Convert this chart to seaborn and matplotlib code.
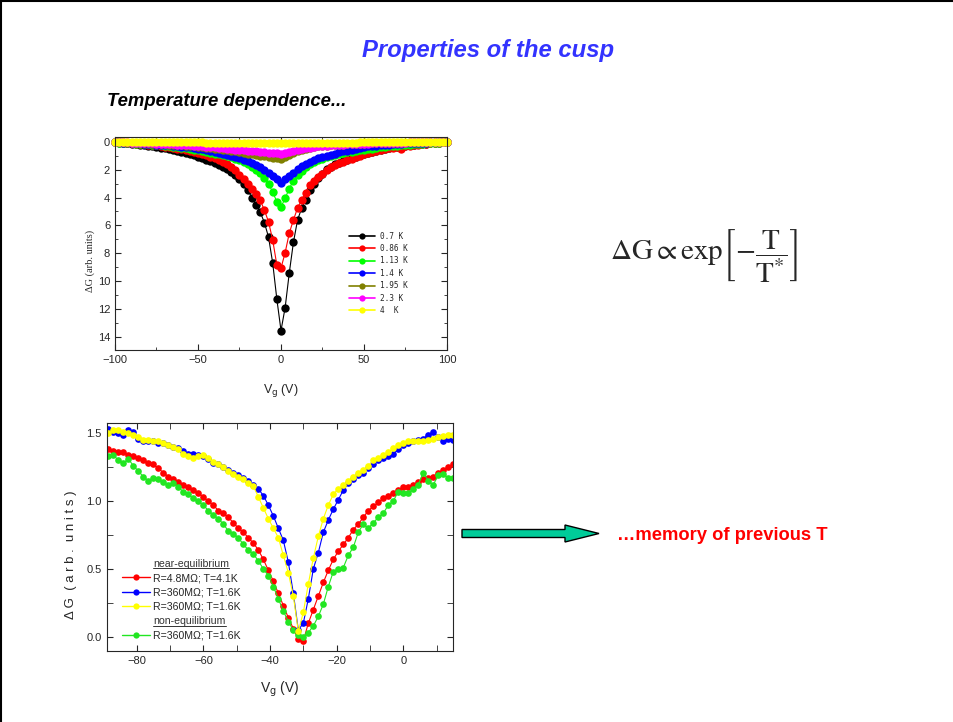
import matplotlib
matplotlib.use("Agg")
import matplotlib.pyplot as plt
from matplotlib.lines import Line2D
from matplotlib.patches import FancyArrow
from matplotlib.ticker import MultipleLocator
import pandas as pd
import seaborn as sns

# ---- top panel: cusp vs temperature ----
top_vg = [-100, -97.5, -95, -92.5, -90, -87.5, -85, -82.5, -80, -77.5,
          -75, -72.5, -70, -67.5, -65, -62.5, -60, -57.5, -55, -52.5,
          -50, -47.5, -45, -42.5, -40, -37.5, -35, -32.5, -30, -27.5,
          -25, -22.5, -20, -17.5, -15, -12.5, -10, -7.5, -5, -2.5,
          0,
          2.5, 5, 7.5, 10, 12.5, 15, 17.5, 20, 22.5, 25,
          27.5, 30, 32.5, 35, 37.5, 40, 42.5, 45, 47.5, 50,
          52.5, 55, 57.5, 60, 62.5, 65, 67.5, 70, 72.5, 75,
          77.5, 80, 82.5, 85, 87.5, 90, 92.5, 95, 97.5, 100]

temps = ["0.7 K", "0.86 K", "1.13 K", "1.4 K", "1.95 K", "2.3 K", "4  K"]
top_colors = ["#000000", "#ff0000", "#00ff00", "#0000ff", "#808000", "#ff00ff", "#ffff00"]

dg_07 = [0.03, 0.05, 0.08, 0.11, 0.14, 0.17, 0.21, 0.24, 0.28, 0.32,
         0.37, 0.42, 0.47, 0.53, 0.6, 0.67, 0.74, 0.81, 0.89, 0.97,
         1.06, 1.15, 1.27, 1.38, 1.52, 1.65, 1.82, 1.97, 2.15, 2.37,
         2.68, 3.0, 3.45, 4.0, 4.5, 5.05, 5.8, 6.85, 8.7, 11.3,
         13.55,
         11.9, 9.4, 7.2, 5.6, 4.75, 4.15, 3.45, 3.0, 2.62, 2.3,
         1.97, 1.77, 1.6, 1.49, 1.4, 1.29, 1.18, 1.08, 0.97, 0.87,
         0.78, 0.7, 0.62, 0.55, 0.5, 0.45, 0.4, 0.36, 0.33, 0.3,
         0.26, 0.22, 0.18, 0.15, 0.12, 0.09, 0.07, 0.05, 0.03, 0.02]
dg_086 = [0.02, 0.04, 0.06, 0.08, 0.1, 0.12, 0.15, 0.17, 0.2, 0.23,
          0.26, 0.3, 0.34, 0.38, 0.43, 0.48, 0.53, 0.59, 0.65, 0.72,
          0.8, 0.88, 0.97, 1.07, 1.18, 1.3, 1.45, 1.62, 1.82, 2.05,
          2.35, 2.65, 3.0, 3.4, 3.75, 4.2, 4.9, 5.75, 7.05, 8.85,
          9.07,
          7.95, 6.55, 5.6, 4.75, 4.15, 3.65, 3.1, 2.8, 2.5, 2.28,
          2.0, 1.8, 1.63, 1.52, 1.45, 1.33, 1.22, 1.12, 1.0, 0.9,
          0.8, 0.72, 0.64, 0.57, 0.52, 0.47, 0.42, 0.38, 0.5, 0.33,
          0.28, 0.24, 0.2, 0.16, 0.13, 0.1, 0.08, 0.06, 0.04, 0.02]
dg_113 = [0.04, 0.05, 0.07, 0.08, 0.1, 0.12, 0.14, 0.16, 0.18, 0.2,
          0.23, 0.26, 0.29, 0.32, 0.35, 0.39, 0.43, 0.47, 0.51, 0.56,
          0.61, 0.66, 0.72, 0.78, 0.84, 0.9, 0.97, 1.04, 1.12, 1.21,
          1.32, 1.45, 1.6, 1.79, 2.02, 2.27, 2.6, 3.02, 3.6, 4.3,
          4.68,
          4.05, 3.35, 2.78, 2.4, 2.06, 1.82, 1.6, 1.44, 1.31, 1.2,
          1.1, 1.02, 0.95, 0.88, 0.82, 0.76, 0.71, 0.66, 0.61, 0.57,
          0.52, 0.48, 0.44, 0.4, 0.37, 0.33, 0.3, 0.27, 0.24, 0.21,
          0.19, 0.16, 0.14, 0.12, 0.1, 0.08, 0.06, 0.05, 0.03, 0.02]
dg_14 = [0.03, 0.04, 0.05, 0.06, 0.08, 0.09, 0.11, 0.13, 0.15, 0.17,
         0.19, 0.21, 0.23, 0.26, 0.28, 0.31, 0.34, 0.37, 0.4, 0.44,
         0.48, 0.52, 0.57, 0.63, 0.7, 0.77, 0.84, 0.92, 1.0, 1.08,
         1.17, 1.27, 1.38, 1.5, 1.65, 1.82, 2.0, 2.2, 2.42, 2.66,
         2.92,
         2.68, 2.45, 2.2, 1.96, 1.76, 1.6, 1.45, 1.3, 1.18, 1.09,
         1.0, 0.92, 0.84, 0.76, 0.68, 0.62, 0.55, 0.48, 0.42, 0.37,
         0.33, 0.3, 0.27, 0.24, 0.21, 0.19, 0.17, 0.15, 0.13, 0.11,
         0.1, 0.08, 0.07, 0.06, 0.05, 0.04, 0.03, 0.03, 0.02, 0.01]
dg_195 = [0.02, 0.03, 0.04, 0.05, 0.06, 0.07, 0.08, 0.09, 0.1, 0.12,
          0.13, 0.15, 0.17, 0.19, 0.21, 0.23, 0.25, 0.27, 0.3, 0.32,
          0.35, 0.38, 0.41, 0.44, 0.48, 0.52, 0.56, 0.6, 0.64, 0.69,
          0.74, 0.79, 0.84, 0.89, 0.94, 0.99, 1.04, 1.09, 1.14, 1.19,
          1.22,
          1.08, 0.93, 0.78, 0.66, 0.56, 0.48, 0.42, 0.37, 0.33, 0.3,
          0.27, 0.25, 0.23, 0.21, 0.19, 0.17, 0.16, 0.15, 0.13, 0.12,
          0.11, 0.1, 0.09, 0.09, 0.08, 0.07, 0.06, 0.06, 0.05, 0.05,
          0.04, 0.04, 0.03, 0.03, 0.03, 0.02, 0.02, 0.02, 0.01, 0.01]
dg_23 = [0.01, 0.02, 0.03, 0.04, 0.05, 0.06, 0.07, 0.08, 0.09, 0.1,
         0.12, 0.13, 0.14, 0.16, 0.17, 0.19, 0.2, 0.22, 0.24, 0.27,
         0.29, 0.32, 0.34, 0.37, 0.4, 0.43, 0.46, 0.49, 0.52, 0.55,
         0.58, 0.61, 0.63, 0.66, 0.69, 0.71, 0.74, 0.77, 0.8, 0.82,
         0.84,
         0.8, 0.74, 0.67, 0.6, 0.53, 0.46, 0.41, 0.36, 0.33, 0.3,
         0.27, 0.25, 0.23, 0.21, 0.19, 0.18, 0.16, 0.15, 0.14, 0.13,
         0.12, 0.11, 0.1, 0.09, 0.08, 0.07, 0.07, 0.06, 0.05, 0.05,
         0.04, 0.04, 0.03, 0.03, 0.02, 0.02, 0.02, 0.01, 0.01, 0.01]
dg_4 = [0.0, 0.0, 0.0, 0.01, 0.01, 0.01, 0.01, 0.01, 0.02, 0.02,
        0.02, 0.02, 0.02, 0.03, 0.03, 0.03, 0.03, 0.03, 0.04, 0.04,
        0.04, 0.04, 0.05, 0.05, 0.05, 0.05, 0.06, 0.06, 0.06, 0.07,
        0.07, 0.07, 0.08, 0.08, 0.08, 0.09, 0.09, 0.1, 0.1, 0.11,
        0.11,
        0.11, 0.1, 0.1, 0.09, 0.09, 0.08, 0.08, 0.08, 0.07, 0.07,
        0.07, 0.06, 0.06, 0.06, 0.05, 0.05, 0.05, 0.05, 0.04, 0.04,
        0.04, 0.04, 0.03, 0.03, 0.03, 0.03, 0.03, 0.02, 0.02, 0.02,
        0.02, 0.02, 0.01, 0.01, 0.01, 0.01, 0.01, 0.0, 0.0, 0.0]

# ---- bottom panel: memory effect ----
bot_vg = [-90, -88.5, -87, -85.5, -84, -82.5, -81, -79.5, -78, -76.5,
          -75, -73.5, -72, -70.5, -69, -67.5, -66, -64.5, -63, -61.5,
          -60, -58.5, -57, -55.5, -54, -52.5, -51, -49.5, -48, -46.5,
          -45, -43.5, -42, -40.5, -39, -37.5, -36, -34.5, -33, -31.5,
          -30, -28.5, -27, -25.5, -24, -22.5, -21, -19.5, -18, -16.5,
          -15, -13.5, -12, -10.5, -9, -7.5, -6, -4.5, -3, -1.5,
          0, 1.5, 3, 4.5, 6, 7.5, 9, 10.5, 12, 13.5,
          15]

dg_red = [1.38, 1.38, 1.37, 1.36, 1.36, 1.34, 1.33, 1.32, 1.3, 1.28,
          1.27, 1.24, 1.21, 1.18, 1.16, 1.14, 1.12, 1.1, 1.08, 1.06,
          1.03, 1.0, 0.97, 0.93, 0.91, 0.88, 0.84, 0.8, 0.77, 0.73,
          0.69, 0.64, 0.57, 0.49, 0.41, 0.32, 0.23, 0.14, 0.06, -0.02,
          -0.03, 0.1, 0.2, 0.3, 0.4, 0.49, 0.57, 0.63, 0.68, 0.73,
          0.79, 0.83, 0.88, 0.93, 0.96, 0.99, 1.02, 1.04, 1.06, 1.08,
          1.1, 1.1, 1.12, 1.14, 1.16, 1.17, 1.18, 1.21, 1.23, 1.25,
          1.27]
dg_blue = [1.52, 1.53, 1.51, 1.5, 1.49, 1.52, 1.51, 1.46, 1.44, 1.44,
           1.44, 1.43, 1.43, 1.41, 1.4, 1.39, 1.37, 1.35, 1.35, 1.34,
           1.33, 1.31, 1.28, 1.27, 1.25, 1.23, 1.21, 1.19, 1.17, 1.15,
           1.12, 1.09, 1.04, 0.97, 0.89, 0.8, 0.71, 0.55, 0.32, 0.05,
           0.1, 0.28, 0.5, 0.62, 0.77, 0.86, 0.94, 1.01, 1.08, 1.13,
           1.16, 1.19, 1.21, 1.24, 1.27, 1.3, 1.32, 1.33, 1.35, 1.38,
           1.41, 1.43, 1.44, 1.45, 1.46, 1.49, 1.51, 1.47, 1.44, 1.46,
           1.45]
dg_yellow = [1.5, 1.5, 1.52, 1.52, 1.51, 1.5, 1.49, 1.47, 1.45, 1.45,
             1.44, 1.44, 1.43, 1.41, 1.4, 1.38, 1.35, 1.33, 1.32, 1.33,
             1.34, 1.32, 1.29, 1.27, 1.25, 1.22, 1.2, 1.18, 1.16, 1.13,
             1.11, 1.03, 0.95, 0.87, 0.8, 0.73, 0.6, 0.47, 0.3, 0.04,
             0.18, 0.39, 0.58, 0.74, 0.87, 0.97, 1.05, 1.09, 1.12, 1.15,
             1.18, 1.21, 1.23, 1.26, 1.3, 1.32, 1.34, 1.36, 1.39, 1.41,
             1.43, 1.44, 1.44, 1.44, 1.44, 1.45, 1.46, 1.47, 1.48, 1.49,
             1.49]
dg_green = [1.3, 1.33, 1.34, 1.3, 1.28, 1.31, 1.26, 1.22, 1.18, 1.15,
            1.17, 1.16, 1.14, 1.12, 1.13, 1.1, 1.07, 1.05, 1.02, 1.0,
            0.97, 0.93, 0.9, 0.87, 0.83, 0.78, 0.76, 0.73, 0.68, 0.64,
            0.61, 0.56, 0.5, 0.45, 0.37, 0.28, 0.19, 0.11, 0.05, 0.01,
            0.0, 0.03, 0.08, 0.15, 0.24, 0.37, 0.48, 0.5, 0.51, 0.6,
            0.66, 0.77, 0.83, 0.8, 0.84, 0.88, 0.91, 0.97, 1.0, 1.07,
            1.06, 1.06, 1.09, 1.12, 1.21, 1.15, 1.12, 1.19, 1.2, 1.17,
            1.17]

bot_labels = ["R=4.8M\u03a9; T=4.1K", "R=360M\u03a9; T=1.6K", "R=360M\u03a9; T=1.6K ", "R=360M\u03a9; T=1.6K  "]
bot_colors = ["#ff0000", "#0000ff", "#ffff00", "#22e622"]

sns.set_style("ticks")
plt.rcParams["font.family"] = ["Liberation Sans", "DejaVu Sans"]
plt.rcParams["xtick.direction"] = "in"
plt.rcParams["ytick.direction"] = "in"

fig = plt.figure(figsize=(9.54, 7.22), dpi=100)

# page overlay in pixel coordinates
ov = fig.add_axes([0, 0, 1, 1])
ov.set_xlim(0, 954)
ov.set_ylim(722, 0)
ov.axis("off")
ov.plot([1.5, 1.5], [0, 722], color="black", lw=1.5)
ov.plot([0, 954], [1, 1], color="black", lw=1.5)
ov.text(488, 50, "Properties of the cusp", ha="center", va="center",
        fontsize=17.2, fontweight="bold", fontstyle="italic", color="#3333ff")
ov.text(107, 101, "Temperature dependence...", ha="left", va="center",
        fontsize=13.3, fontweight="bold", fontstyle="italic", color="black")
ov.text(610, 256, r"$\Delta\mathrm{G}\propto\mathrm{exp}\left[-\dfrac{\mathrm{T}}{\mathrm{T}^{*}}\right]$",
        ha="left", va="center", fontsize=21, math_fontfamily="stix")
ov.add_patch(FancyArrow(462, 533.5, 137, 0, width=8, head_width=17, head_length=34,
                        length_includes_head=True, fc="#00cc99", ec="black", lw=1))
ov.text(617, 535, "\u2026memory of previous T", ha="left", va="center",
        fontsize=13.2, fontweight="bold", color="#ff0000")

# top chart
ax1 = fig.add_axes([115 / 954, 1 - 350 / 722, 332 / 954, 213 / 722])
top_df = pd.concat([pd.DataFrame({"vg": top_vg, "dg": d, "T": t})
                    for t, d in zip(temps, [dg_07, dg_086, dg_113, dg_14, dg_195, dg_23, dg_4])])
sns.lineplot(data=top_df, x="vg", y="dg", hue="T", hue_order=temps, palette=top_colors,
             estimator=None, sort=False, marker="o", markersize=6, markeredgewidth=0,
             linewidth=0.8, legend=False, ax=ax1, clip_on=False)
ax1.set_xlim(-100, 100)
ax1.set_ylim(14.95, -0.35)
ax1.xaxis.set_major_locator(MultipleLocator(50))
ax1.xaxis.set_minor_locator(MultipleLocator(25))
ax1.yaxis.set_major_locator(MultipleLocator(2))
ax1.yaxis.set_minor_locator(MultipleLocator(1))
ax1.tick_params(which="both", top=True, right=True, labelsize=8)
ax1.tick_params(which="major", length=4)
ax1.tick_params(which="minor", length=2)
ax1.set_xlabel(r"V$_{\rm g}$ (V)", fontsize=9, labelpad=12)
ax1.set_ylabel("\u0394G (arb. units)", fontsize=7.5, family=["Liberation Serif", "DejaVu Serif"])
ax1.yaxis.set_label_coords(-0.061, 0.42)
h1 = [Line2D([], [], color=c, marker="o", markersize=4.5, markeredgewidth=0, lw=1.2) for c in top_colors]
ax1.legend(h1, temps, loc="upper left", bbox_to_anchor=(0.705, 0.556), frameon=False,
           borderpad=0, borderaxespad=0, handlelength=3.3, handletextpad=0.7, labelspacing=0.44,
           prop={"family": "DejaVu Sans Mono", "size": 5.6})

# bottom chart
ax2 = fig.add_axes([106.7 / 954, 1 - 651 / 722, 346.6 / 954, 228 / 722])
bot_df = pd.concat([pd.DataFrame({"vg": bot_vg, "dg": d, "s": l})
                    for l, d in zip(bot_labels, [dg_red, dg_blue, dg_yellow, dg_green])])
draw_order = [bot_labels[0], bot_labels[3], bot_labels[1], bot_labels[2]]
sns.lineplot(data=bot_df, x="vg", y="dg", hue="s", hue_order=draw_order,
             palette=[bot_colors[0], bot_colors[3], bot_colors[1], bot_colors[2]],
             estimator=None, sort=False, marker="o", markersize=4.8, markeredgewidth=0,
             linewidth=0.8, legend=False, ax=ax2)
ax2.set_xlim(-89, 15)
ax2.set_ylim(-0.105, 1.575)
ax2.xaxis.set_major_locator(MultipleLocator(20))
ax2.xaxis.set_minor_locator(MultipleLocator(10))
ax2.yaxis.set_major_locator(MultipleLocator(0.5))
ax2.yaxis.set_minor_locator(MultipleLocator(0.25))
ax2.tick_params(which="both", top=True, right=True, labelsize=8)
ax2.tick_params(which="major", length=4)
ax2.tick_params(which="minor", length=4)
ax2.set_xlabel(r"V$_{\rm g}$ (V)", fontsize=10, labelpad=10)
ax2.set_ylabel("\u0394 G  ( a r b .  u n i t s )", fontsize=9.5)
ax2.yaxis.set_label_coords(-0.087, 0.42)

blank = Line2D([], [], color="none")
h2 = [blank] + [Line2D([], [], color=c, marker="o", markersize=4.5, markeredgewidth=0, lw=1)
                for c in bot_colors[:3]] + [blank] + [Line2D([], [], color=bot_colors[3], marker="o",
                                                              markersize=4.5, markeredgewidth=0, lw=1)]
l2 = ["near-equilibrium", bot_labels[0], bot_labels[1], bot_labels[1], "non-equilibrium", bot_labels[1]]
leg2 = ax2.legend(h2, l2, loc="upper left", bbox_to_anchor=(0.045, 0.405), frameon=False,
                  borderpad=0, borderaxespad=0, handlelength=2.6, handletextpad=0.35,
                  labelspacing=0.42, fontsize=7.6)
for t in leg2.get_texts():
    if "equilibrium" in t.get_text():
        t.set_color("#333333")

fig.canvas.draw()
rend = fig.canvas.get_renderer()
inv = fig.transFigure.inverted()
for t in leg2.get_texts():
    if "equilibrium" in t.get_text():
        bb = t.get_window_extent(rend)
        (x0, y0), (x1, _) = inv.transform([(bb.x0, bb.y0 + 0.5), (bb.x1, bb.y0)])
        fig.add_artist(Line2D([x0, x1], [y0, y0], transform=fig.transFigure, color="#333333", lw=0.7))

fig.savefig("out.png", dpi=100)
